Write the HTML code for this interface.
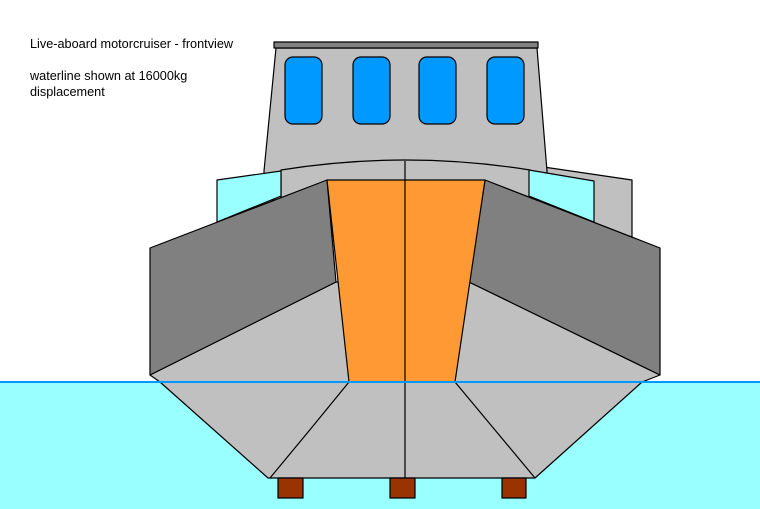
<!DOCTYPE html>
<html><head><style>
body{margin:0;background:#fff;width:760px;height:509px;overflow:hidden}
svg{display:block}
text{font-family:"Liberation Sans",sans-serif;font-size:12.7px;fill:#000}
</style></head><body>
<svg width="760" height="509" viewBox="0 0 760 509" xmlns="http://www.w3.org/2000/svg">
<rect x="0" y="382" width="760" height="127" fill="#99ffff"/>
<text x="30" y="48">Live-aboard motorcruiser - frontview</text>
<text x="30" y="80">waterline shown at 16000kg</text>
<text x="30" y="96">displacement</text>
<g stroke="#000" stroke-width="1.2" stroke-linejoin="round">
<polygon points="530,165 632,180 632,237 530,210" fill="#c0c0c0"/>
<polygon points="276,48 537,48 547,171 547,200 264,200 264,171" fill="#c0c0c0"/>
<rect x="274" y="42" width="264" height="6" fill="#808080"/>
<rect x="285" y="57" width="37" height="67" rx="8" fill="#0099ff"/>
<rect x="353" y="57" width="37" height="67" rx="8" fill="#0099ff"/>
<rect x="419" y="57" width="37" height="67" rx="8" fill="#0099ff"/>
<rect x="487" y="57" width="37" height="67" rx="8" fill="#0099ff"/>
<path d="M281,200 L281,170 Q405,150 530,170 L530,200 Z" fill="#c0c0c0"/>
<polygon points="217,180 281,171 281,196 217,222" fill="#99ffff"/>
<polygon points="529,170 594,181 594,222 529,196" fill="#99ffff"/>
<polygon points="150,375 336,282 469,282 660,375 642,382 535,478 268,478 160,382" fill="#c0c0c0"/>
<polygon points="150,248 327,180 336,282 150,375" fill="#808080"/>
<polygon points="485,180 660,248 660,375 469,282" fill="#808080"/>
<polygon points="327,180 485,180 455,382 349,382" fill="#ff9933"/>
<line x1="405" y1="161" x2="405" y2="478"/>
<path d="M349,382 Q310,430 270,478" fill="none"/>
<path d="M455,382 Q495,430 535,478" fill="none"/>
<rect x="278" y="478" width="25" height="20" fill="#993300"/>
<rect x="390" y="478" width="25" height="20" fill="#993300"/>
<rect x="502" y="478" width="24" height="20" fill="#993300"/>
</g>
<rect x="0" y="381" width="760" height="2" fill="#0099ff"/>
</svg>
</body></html>
